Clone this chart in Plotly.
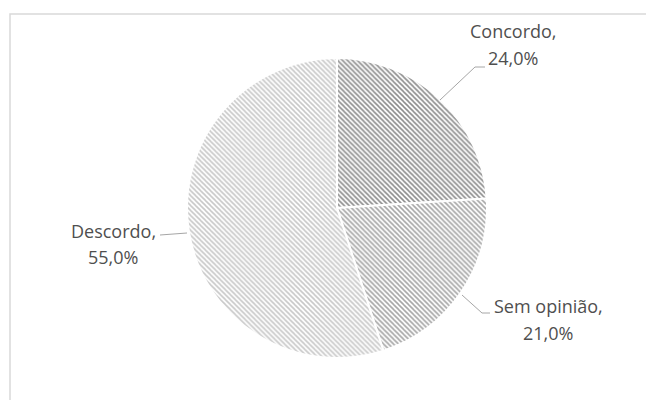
import plotly.graph_objects as go

categories = ["Concordo", "Sem opinião", "Descordo"]
values = [24.0, 21.0, 55.0]
value_labels = ["24,0%", "21,0%", "55,0%"]

W, H = 654, 400
OFF = 8  # page body margin in the browser
bg_colors = ["#bdbdbd", "#d3d3d3", "#e8e8e8"]
fg_colors = ["#8c8c8c", "#a6a6a6", "#c8c8c8"]

# label layout (pixel positions of the text centres and leader paths)
label_pos = {
    "Concordo": (513, 31, 58),
    "Sem opinião": (548, 306, 333),
    "Descordo": (113, 231, 257),
}
leaders = [
    [(440, 100), (475, 67), (485, 67)],
    [(462, 295), (482, 313), (490, 313)],
    [(160, 235), (187, 233)],
]

def px(x):
    return (x - OFF) / W

def py(y):
    return 1 - (y - OFF) / H

fig = go.Figure(go.Pie(
    labels=categories,
    values=values,
    sort=False,
    direction="clockwise",
    rotation=0,
    textinfo="none",
    hoverinfo="label+percent",
    marker=dict(
        colors=bg_colors,
        line=dict(color="white", width=2),
        pattern=dict(shape=["\\", "\\", "\\"], fgcolor=fg_colors,
                     size=3.5, solidity=0.45),
    ),
    domain=dict(x=[px(187), px(487)], y=[py(358), py(58)]),
    showlegend=False,
))

annotations = []
for cat, vl in zip(categories, value_labels):
    cx, y1, y2 = label_pos[cat]
    for txt, yy in ((cat + ",", y1), (vl, y2)):
        annotations.append(dict(
            x=px(cx), y=py(yy), xref="paper", yref="paper",
            text=txt, showarrow=False, xanchor="center", yanchor="middle",
            font=dict(family="Open Sans, Noto Sans, sans-serif", size=18, color="#4f4f4f"),
        ))

shapes = [dict(type="rect", xref="paper", yref="paper",
               x0=px(10), y0=py(430), x1=px(690), y1=py(14),
               line=dict(color="#d9d9d9", width=1.5), fillcolor="rgba(0,0,0,0)", layer="below")]
for pts in leaders:
    path = "M " + " L ".join(f"{px(x)},{py(y)}" for x, y in pts)
    shapes.append(dict(type="path", xref="paper", yref="paper", path=path,
                       line=dict(color="#a6a6a6", width=1)))

fig.update_layout(
    width=W, height=H,
    margin=dict(l=0, r=0, t=0, b=0),
    paper_bgcolor="white", plot_bgcolor="white",
    annotations=annotations, shapes=shapes,
)

fig.write_html("out.html")
